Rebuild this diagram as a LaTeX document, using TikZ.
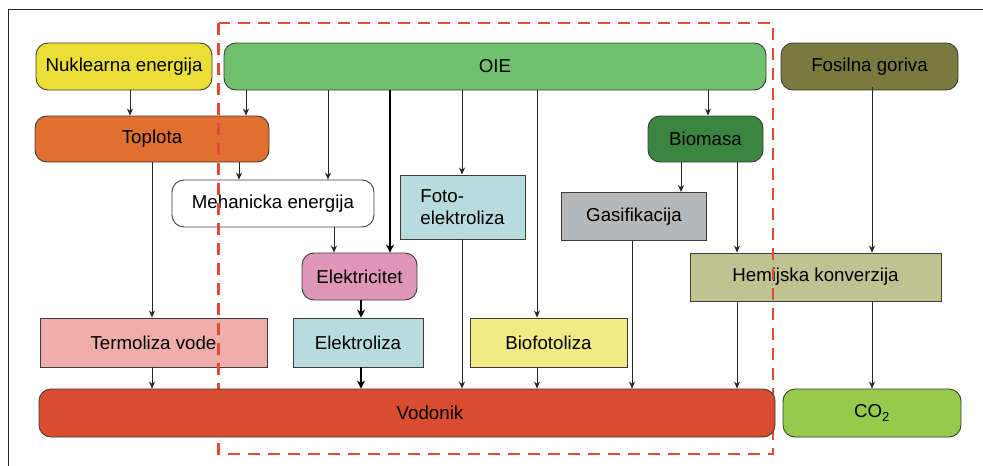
\documentclass[tikz,border=0pt]{standalone}
\usepackage{fontspec}
\setmainfont{Liberation Sans}
\usetikzlibrary{arrows.meta}
\definecolor{cNuk}{HTML}{EBDF35}
\definecolor{cOie}{HTML}{70C16E}
\definecolor{cFos}{HTML}{7A7A3F}
\definecolor{cTop}{HTML}{DF7030}
\definecolor{cBio}{HTML}{3A8540}
\definecolor{cFoto}{HTML}{B8DBDE}
\definecolor{cGas}{HTML}{B5B7B8}
\definecolor{cEle}{HTML}{DF96B9}
\definecolor{cHem}{HTML}{BFC291}
\definecolor{cTer}{HTML}{F0AEAA}
\definecolor{cBfl}{HTML}{F2EA85}
\definecolor{cVod}{HTML}{D94C2F}
\definecolor{cCo}{HTML}{97C94A}
\definecolor{cDash}{HTML}{E04A37}
\definecolor{cLine}{HTML}{262626}
\definecolor{cBorder}{HTML}{3C3C3C}
\tikzset{
  box/.style={draw=cBorder, line width=0.9pt, inner sep=0pt, anchor=center,
    font=\fontsize{18.7}{21.5}\selectfont, text=black},
  rbox/.style={box, rounded corners=12pt},
  arr/.style={draw=cLine, line width=1pt, -{Stealth[length=7pt,width=6pt]}},
  tarr/.style={draw=black, line width=2.8pt, -{Stealth[length=8pt,width=8pt]}},
}
\begin{document}
\begin{tikzpicture}[x=1pt,y=-1pt]
\useasboundingbox (0,0) rectangle (983,466);
% outer frame (top and left edges)
\draw[cLine, line width=0.9pt] (983,9.3) -- (8.3,9.3) -- (8.3,466);

% top row
\node[rbox, fill=cNuk, minimum width=176pt, minimum height=47pt] (nuk) at (124,66.5) {Nuklearna energija};
\node[rbox, fill=cOie, minimum width=542pt, minimum height=47pt] (oie) at (495,66.5) {OIE};
\node[rbox, fill=cFos, minimum width=177pt, minimum height=47pt] (fos) at (869.5,66.5) {Fosilna goriva};
% second row
\node[rbox, fill=cTop, minimum width=234pt, minimum height=46pt] (top) at (152,139) {Toplota};
\node[rbox, fill=cBio, minimum width=115pt, minimum height=46pt] (bio) at (705.5,139) {Biomasa};
% third row
\node[rbox, fill=white, minimum width=202pt, minimum height=47pt] (meh) at (273,203.5) {Mehanicka energija};
\node[box, fill=cFoto, minimum width=125pt, minimum height=64pt, align=left] (foto) at (462.5,207) {Foto-\\elektroliza};
\node[box, fill=cGas, minimum width=145pt, minimum height=48pt] (gas) at (634,216.5) {Gasifikacija};
% fourth row
\node[rbox, fill=cEle, minimum width=115pt, minimum height=47pt] (ele) at (359.5,276.5) {Elektricitet};
\node[box, fill=cHem, minimum width=251pt, minimum height=48pt] (hem) at (815.5,277) {Hemijska konverzija};
% fifth row
\node[box, fill=cTer, minimum width=227pt, minimum height=49pt] (ter) at (153.5,342.5) {Termoliza vode};
\node[box, fill=cFoto, minimum width=130pt, minimum height=49pt] (elz) at (358,342.5) {Elektroliza};
\node[box, fill=cBfl, minimum width=157pt, minimum height=49pt] (bfl) at (548.5,342.5) {Biofotoliza};

% dashed boundary of renewable sources
\draw[cDash, line width=2.8pt, dash pattern=on 12pt off 8pt] (218.5,23) rectangle (773,454);

% bottom row
\node[rbox, fill=cVod, minimum width=736pt, minimum height=48pt] (vod) at (407,413) {\hspace*{46pt}Vodonik};
\node[rbox, fill=cCo, minimum width=178pt, minimum height=48pt] (co) at (872,413) {CO\textsubscript{2}};

% x positions of connectors
\coordinate (x130) at (130,0);
\coordinate (x152) at (152,0);
\coordinate (x239) at (239,0);
\coordinate (x246) at (246,0);
\coordinate (x328) at (328,0);
\coordinate (x334) at (334,0);
\coordinate (x361) at (361,0);
\coordinate (x390) at (390,0);
\coordinate (x462) at (462,0);
\coordinate (x537) at (537,0);
\coordinate (x632) at (632,0);
\coordinate (x681) at (681,0);
\coordinate (x708) at (708,0);
\coordinate (x737) at (737,0);
\coordinate (x872) at (872,0);

% connectors
\draw[arr] (nuk.south -| x130) -- (top.north -| x130);
\draw[arr] (oie.south -| x246) -- (top.north -| x246);
\draw[arr] (top.south -| x239) -- (meh.north -| x239);
\draw[arr] (oie.south -| x328) -- (meh.north -| x328);
\draw[tarr] (oie.south -| x390) -- (ele.north -| x390);
\draw[arr] (meh.south -| x334) -- (ele.north -| x334);
\draw[arr] (oie.south -| x462) -- (foto.north -| x462);
\draw[arr] (oie.south -| x537) -- (bfl.north -| x537);
\draw[arr] (oie.south -| x708) -- (bio.north -| x708);
\draw[arr] (bio.south -| x681) -- (gas.north -| x681);
\draw[arr] (bio.south -| x737) -- (hem.north -| x737);
\draw[arr] ([yshift=3pt]fos.south -| x872) -- (hem.north -| x872);
\draw[arr] (top.south -| x152) -- (ter.north -| x152);
\draw[tarr] (ele.south -| x361) -- (elz.north -| x361);
\draw[arr] (ter.south -| x152) -- (vod.north -| x152);
\draw[tarr] (elz.south -| x361) -- (vod.north -| x361);
\draw[arr] (foto.south -| x462) -- (vod.north -| x462);
\draw[arr] (bfl.south -| x537) -- (vod.north -| x537);
\draw[arr] (gas.south -| x632) -- (vod.north -| x632);
\draw[arr] (hem.south -| x737) -- (vod.north -| x737);
\draw[arr] (hem.south -| x872) -- (co.north -| x872);
\end{tikzpicture}
\end{document}
